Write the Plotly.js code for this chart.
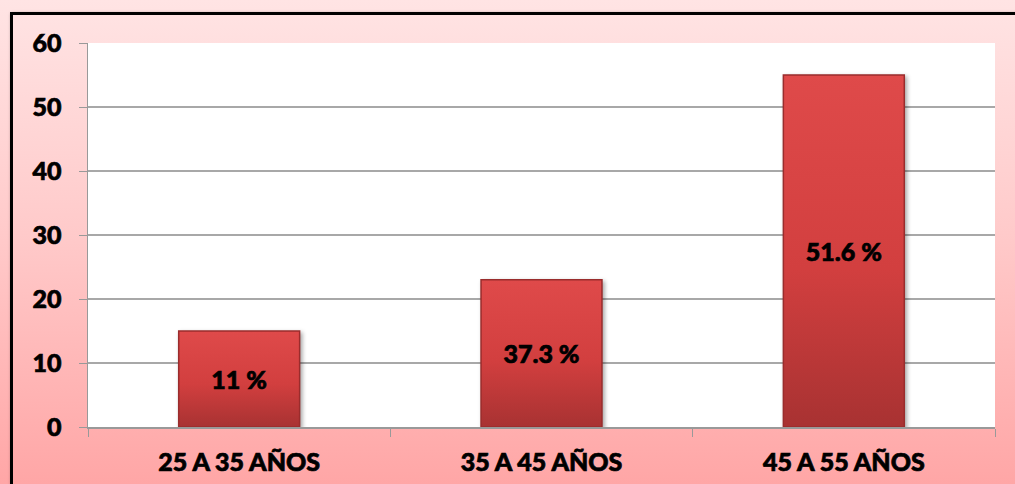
<!DOCTYPE html>
<html>
<head>
<meta charset="utf-8">
<script src="https://cdn.plot.ly/plotly-3.0.1.min.js"></script>
<style>
html,body{margin:0;padding:0;width:1015px;height:484px;overflow:hidden;}
body{background:linear-gradient(to bottom,#ffe4e4 0%,#ffc9c9 50%,#ffa6a6 100%);}
#frame{position:absolute;left:10px;top:12px;width:1020px;height:490px;border:3px solid #000;box-sizing:border-box;box-shadow:1px 1px 3px rgba(0,0,0,0.4);}
#chart{position:absolute;left:0;top:0;width:1015px;height:484px;}
#chart text{stroke:#000;stroke-width:0.7px;}
</style>
</head>
<body>
<div id="frame"></div>
<div id="chart"></div>
<script>
const categories = ["25 A 35 AÑOS", "35 A 45 AÑOS", "45 A 55 AÑOS"];
const values = [15, 23, 55];
const barLabels = ["11 %", "37.3 %", "51.6 %"];
const yTicks = [0, 10, 20, 30, 40, 50, 60];

const font = "Lato, 'Open Sans', sans-serif";

Plotly.newPlot("chart", [{
  type: "bar",
  x: categories,
  y: values,
  text: barLabels,
  textposition: "inside",
  insidetextanchor: "middle",
  textangle: 0,
  constraintext: "none",
  textfont: {family: font, size: 25, color: "#000", weight: 900},
  width: 0.4,
  marker: {color: "#d03c3c", line: {color: "#9a2c2c", width: 1.5}},
  hoverinfo: "none"
}], {
  width: 1015, height: 484,
  margin: {l: 88, r: 20, t: 43, b: 57},
  paper_bgcolor: "rgba(0,0,0,0)",
  plot_bgcolor: "#ffffff",
  showlegend: false,
  font: {family: font, color: "#000"},
  xaxis: {
    type: "category",
    tickson: "boundaries",
    ticks: "outside", ticklen: 8, tickcolor: "#999",
    showline: true, linecolor: "#999", linewidth: 1.5,
    showgrid: false,
    tickfont: {family: font, size: 25, weight: 900},
    ticklabelstandoff: 12
  },
  yaxis: {
    range: [0, 60],
    tickvals: yTicks,
    ticks: "outside", ticklen: 8, tickcolor: "#999",
    showline: true, linecolor: "#999", linewidth: 1.5,
    gridcolor: "#a8a8a8", gridwidth: 1.2,
    zeroline: false,
    tickfont: {family: font, size: 25, weight: 900},
    ticklabelstandoff: 12
  },
  bargap: 0.6
}, {displayModeBar: false, staticPlot: true}).then(function(gd){
  const ns = "http://www.w3.org/2000/svg";
  const svg = gd.querySelector(".main-svg");
  let defs = svg.querySelector("defs");
  if (!defs) { defs = document.createElementNS(ns, "defs"); svg.insertBefore(defs, svg.firstChild); }
  const g = document.createElementNS(ns, "linearGradient");
  g.setAttribute("id", "barGrad");
  g.setAttribute("x1", "0"); g.setAttribute("y1", "0");
  g.setAttribute("x2", "0"); g.setAttribute("y2", "1");
  [["0", "#df4a4a"], ["0.55", "#d23f3f"], ["1", "#a83232"]].forEach(function(s){
    const st = document.createElementNS(ns, "stop");
    st.setAttribute("offset", s[0]); st.setAttribute("stop-color", s[1]);
    g.appendChild(st);
  });
  defs.appendChild(g);
  gd.querySelectorAll(".trace.bars .point path").forEach(function(p){
    p.style.fill = "url(#barGrad)";
    p.style.filter = "drop-shadow(2px 2px 2px rgba(0,0,0,0.35))";
  });
});
</script>
</body>
</html>
